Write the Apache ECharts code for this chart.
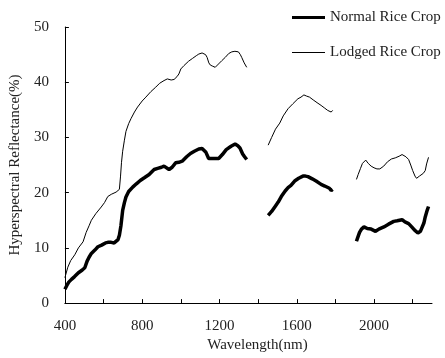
<!DOCTYPE html>
<html>
<head>
<meta charset="utf-8">
<script src="https://cdn.jsdelivr.net/npm/echarts@6/dist/echarts.min.js"></script>
<style>html,body{margin:0;padding:0;background:#fff;}#c{width:445px;height:358px;}</style>
</head>
<body>
<div id="c"></div>
<script>
var seriesNames = ['Normal Rice Crop', 'Lodged Rice Crop'];
var xTicks = [400, 800, 1200, 1600, 2000];

var normalWl = [400,410,420,434,450,470,490,503,515,525,537,555,571,590,610,622,640,655,665,675,682,690,699,708,716,730,751,770,790,811,836,850,862,880,900,913,922,939,955,973,990,1007,1030,1050,1070,1093,1110,1119,1130,1144,1160,1180,1196,1215,1235,1260,1281,1295,1306,1320,1330,1341,
  null,
  1452,1470,1490,1504,1520,1540,1555,1570,1589,1610,1632,1645,1658,1680,1700,1726,1745,1769,1778,1786,
  null,
  1909,1915,1925,1935,1948,1965,1985,2008,2025,2051,2075,2102,2120,2145,2160,2179,2195,2210,2227,2240,2248,2258,2265,2275,2282];
var normalVal = [2.5,3.2,3.8,4.3,4.8,5.5,6.0,6.4,7.6,8.3,9.0,9.6,10.2,10.5,10.9,11.0,11.0,10.9,10.8,11.5,12.3,14.0,16.8,18.2,19.2,20.2,21.0,21.6,22.2,22.7,23.3,23.8,24.2,24.4,24.6,24.8,24.5,24.2,24.6,25.4,25.5,25.7,26.5,27.1,27.5,27.9,28.0,27.8,27.3,26.2,26.2,26.2,26.2,26.9,27.8,28.4,28.8,28.5,28.1,27.0,26.5,26.0,
  null,
  15.9,16.6,17.6,18.3,19.3,20.3,20.9,21.3,22.1,22.6,23.0,23.0,22.9,22.5,22.1,21.5,21.2,20.8,20.4,20.6,
  null,
  11.2,11.8,12.8,13.4,13.8,13.5,13.4,13.0,13.4,13.8,14.3,14.8,14.9,15.1,14.7,14.4,13.8,13.2,12.7,13.0,13.2,14.5,15.6,16.8,17.5];

var lodgedWl = [400,415,430,451,470,494,510,525,537,560,588,605,622,640,665,675,682,688,693,699,708,716,730,742,760,776,800,819,845,870,890,913,930,950,965,980,990,1000,1016,1040,1060,1080,1093,1110,1119,1128,1136,1145,1153,1165,1178,1195,1212,1230,1248,1264,1280,1298,1308,1315,1328,1341,
  null,
  1452,1470,1490,1512,1530,1555,1580,1606,1622,1637,1650,1666,1685,1705,1726,1745,1760,1769,1778,1786,
  null,
  1909,1918,1930,1940,1957,1970,1985,2000,2015,2030,2050,2070,2090,2110,2130,2145,2153,2165,2179,2190,2200,2212,2220,2227,2235,2244,2255,2265,2272,2282];
var lodgedVal = [4.6,6.5,7.7,8.75,10.0,11.1,12.8,14.0,15.0,16.2,17.4,18.2,19.3,19.7,20.1,20.2,20.6,23.0,25.5,27.5,29.5,31.1,32.5,33.4,34.6,35.5,36.6,37.3,38.3,39.1,39.8,40.3,40.6,40.4,40.5,41.0,41.5,42.4,43.0,43.8,44.3,44.8,45.1,45.3,45.5,45.0,44.5,43.5,43.1,42.9,42.7,43.3,43.9,44.5,45.2,45.5,45.6,45.5,45.0,44.5,43.5,42.7,
  null,
  28.6,30.0,31.5,32.6,33.9,35.2,36.1,37.0,37.3,37.7,37.5,37.3,36.8,36.3,35.8,35.3,34.9,34.6,34.6,34.9,
  null,
  22.4,23.3,24.4,25.3,25.9,25.3,24.8,24.5,24.3,24.3,24.8,25.6,26.1,26.3,26.6,26.9,27.0,26.5,26.0,25.0,24.0,23.0,22.6,22.4,23.0,22.7,23.5,24.0,25.2,26.4];

function pairs(wl, val) {
  var out = [];
  for (var i = 0; i < wl.length; i++) {
    if (wl[i] === null) out.push('-');
    else out.push([wl[i], val[i]]);
  }
  return out;
}

var font = 'Liberation Serif';
var txt = '#222';
var chart = echarts.init(document.getElementById('c'), null, { renderer: 'canvas' });
chart.setOption({
  animation: false,
  backgroundColor: '#fff',
  textStyle: { fontFamily: font, color: txt },
  grid: { left: 62, right: 13, top: 27, bottom: 37, containLabel: false },
  legend: [
    {
      data: [{ name: seriesNames[0], icon: 'rect' }],
      left: 292, top: 10, padding: 0, itemWidth: 33, itemHeight: 3, itemGap: 5,
      textStyle: { fontFamily: font, fontSize: 15, color: txt }
    },
    {
      data: [{ name: seriesNames[1], icon: 'rect' }],
      left: 292, top: 45, padding: 0, itemWidth: 33, itemHeight: 1, itemGap: 5,
      textStyle: { fontFamily: font, fontSize: 15, color: txt }
    }
  ],
  xAxis: {
    type: 'value', min: 400, max: 2300, interval: 200,
    name: 'Wavelength(nm)', nameLocation: 'middle', nameGap: 33,
    nameTextStyle: { fontFamily: font, fontSize: 15, color: txt, padding: [0, 0, 0, 18] },
    axisLine: { lineStyle: { color: '#000', width: 1 } },
    axisTick: { inside: true, length: 4, lineStyle: { color: '#000' } },
    splitLine: { show: false },
    axisLabel: {
      fontFamily: font, fontSize: 15, color: txt, margin: 15, showMaxLabel: false,
      formatter: function (v) { return xTicks.indexOf(v) >= 0 ? String(v) : ''; }
    }
  },
  yAxis: {
    type: 'value', min: 0, max: 50, interval: 10,
    name: 'Hyperspectral Reflectance(%)', nameLocation: 'middle', nameGap: 40,
    nameTextStyle: { fontFamily: font, fontSize: 15, color: txt },
    axisLine: { show: true, lineStyle: { color: '#000', width: 1 } },
    axisTick: { show: true, inside: true, length: 4, lineStyle: { color: '#000' } },
    splitLine: { show: false },
    axisLabel: { fontFamily: font, fontSize: 15, color: txt, margin: 16 }
  },
  series: [
    {
      name: seriesNames[0], type: 'line', showSymbol: false, symbol: 'none',
      connectNulls: false,
      lineStyle: { color: '#000', width: 3.5 }, itemStyle: { color: '#000' },
      data: pairs(normalWl, normalVal)
    },
    {
      name: seriesNames[1], type: 'line', showSymbol: false, symbol: 'none',
      connectNulls: false,
      lineStyle: { color: '#000', width: 1 }, itemStyle: { color: '#000' },
      data: pairs(lodgedWl, lodgedVal)
    }
  ]
});
</script>
</body>
</html>
